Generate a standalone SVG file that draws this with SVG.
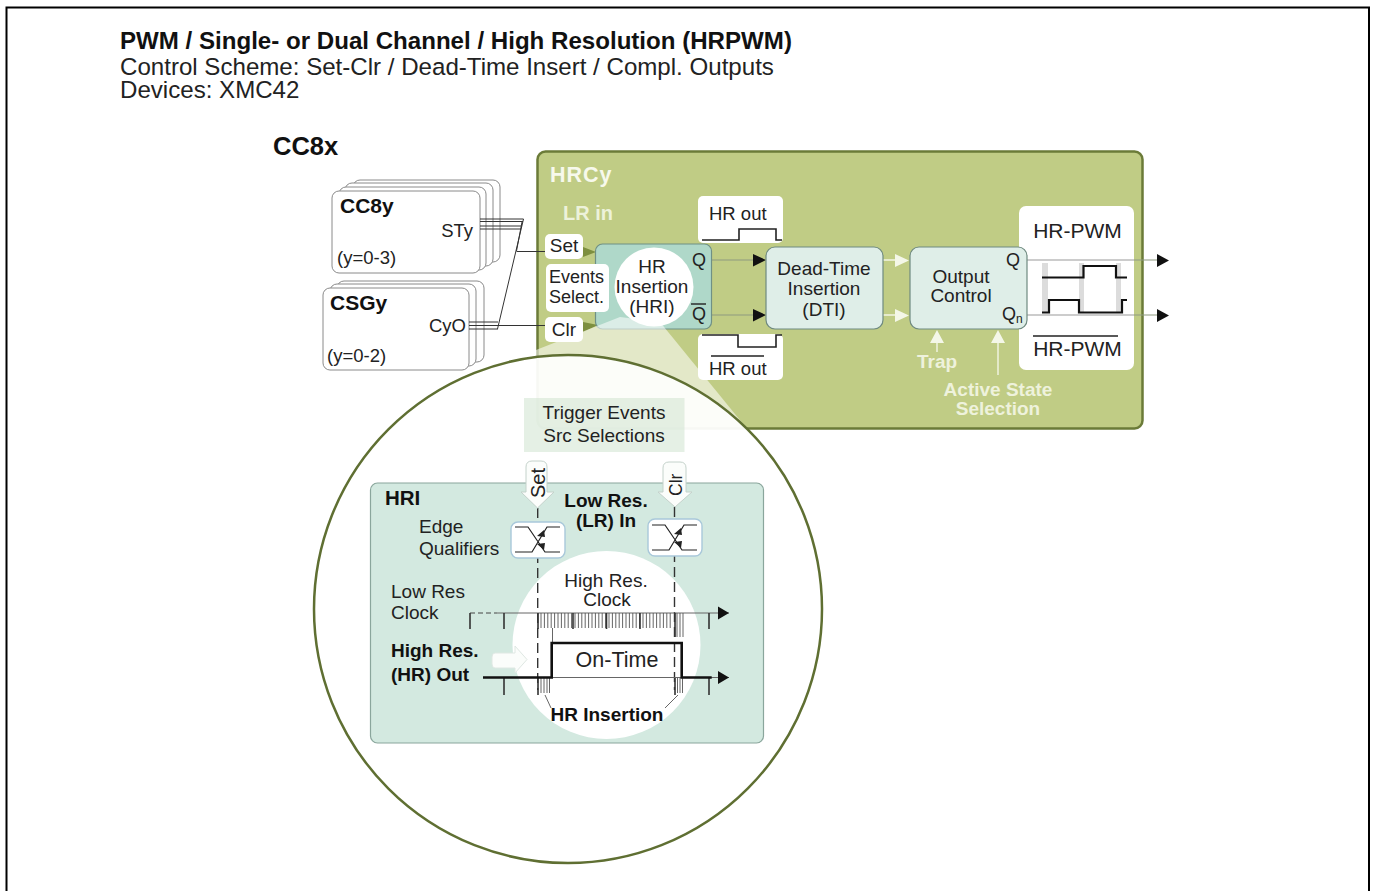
<svg xmlns="http://www.w3.org/2000/svg" width="1375" height="891" viewBox="0 0 1375 891">
<defs>
<style>
text{font-family:"Liberation Sans",Arial,sans-serif;fill:#222}
.b{font-weight:bold;fill:#111}
.m{text-anchor:middle}
.w{fill:#eef2dc;font-weight:bold}
.f19{font-size:19px}
.stack{fill:#fff;stroke:#8a8a8a;stroke-width:1}
.lab{fill:#fff}
.teal{fill:#dfeee8;stroke:#6f8a80;stroke-width:1.2}
.wire{fill:none;stroke:#333;stroke-width:1}
.gl{fill:none;stroke:#8e9a80;stroke-width:1.2}
.wave{fill:none;stroke:#222;stroke-width:1.6}
.wl{fill:none;stroke:#f2f5e4;stroke-width:1.4}
.tick{stroke:#333;stroke-width:1.6}
.fine{stroke:#555;stroke-width:.9}
.dash{stroke:#333;stroke-width:1.4;stroke-dasharray:10 5;fill:none}
.eq{fill:#fff;stroke:#a9c8da;stroke-width:1.4}
.hand{fill:#fbfdfb;stroke:#c4d2cb;stroke-width:1}
</style>
</defs>
<rect width="1375" height="891" fill="#fff"/>
<path d="M6.500 891V7.500H1369V891" fill="none" stroke="#000" stroke-width="2"/>
<text x="120" y="49" class="b" font-size="24.100">PWM / Single- or Dual Channel / High Resolution (HRPWM)</text>
<text x="120" y="74.500" font-size="24.100">Control Scheme: Set-Clr / Dead-Time Insert / Compl. Outputs</text>
<text x="120" y="98" font-size="24.100">Devices: XMC42</text>
<text x="273" y="155" class="b" font-size="25.500">CC8x</text>

<g id="hrcy">
<rect x="537.500" y="151.500" width="605" height="277" rx="8" fill="#c0cc85" stroke="#6b7b38" stroke-width="2.500"/>
<text x="550" y="182" font-size="21.500" font-weight="bold" letter-spacing="1" style="fill:#f7f9ec">HRCy</text>
<text x="563" y="220" font-size="20" font-weight="bold" style="fill:#edf2da">LR in</text>
</g>

<g id="cc8y">
<rect class="stack" x="353" y="180" width="147" height="82" rx="7"/>
<rect class="stack" x="345" y="183" width="148" height="83" rx="7"/>
<rect class="stack" x="339" y="187" width="147" height="83" rx="7"/>
<rect class="stack" x="332" y="191" width="148" height="82" rx="7"/>
<text x="340" y="213" class="b" font-size="21">CC8y</text>
<text x="473" y="237" text-anchor="end" font-size="18.500">STy</text>
<text x="337" y="264" font-size="18.500">(y=0-3)</text>
</g>
<g id="csgy">
<rect class="stack" x="337" y="281" width="147" height="81" rx="7"/>
<rect class="stack" x="330" y="284" width="146" height="82" rx="7"/>
<rect class="stack" x="323" y="288" width="146" height="82" rx="7"/>
<text x="330" y="310" class="b" font-size="21">CSGy</text>
<text x="466" y="332" text-anchor="end" font-size="18.500">CyO</text>
<text x="327" y="362" font-size="18.500">(y=0-2)</text>
</g>

<g id="connectors">
<path class="wire" d="M480 219H523.500M480 221.500H523M480 226H522M480 229H521M523.500 219L497.500 329M522 222L516.500 251M516.500 251.500H546M469 322H498M469 325.500H546M469 329H498"/>
<path class="gl" d="M711 260H756M711 315H756M1027 260H1158M1027 315H1158"/>
<path d="M753 254L766 260L753 266.500ZM753 309L766 315L753 321.500ZM1157 254L1169 260.500L1157 267ZM1157 309L1169 315.500L1157 322Z" fill="#111"/>
<path class="wl" d="M883 260H898M883 315H898M937 343V352M998 343V375"/>
<path d="M895 254L909 260.500L895 267ZM895 309L909 315.500L895 322ZM937 330L930 343H944ZM998 330L991 343H1005Z" fill="#f4f7e8"/>
<path d="M583 247L596 252L583 257ZM583 322L598 325L583 332Z" fill="#7d8f3f"/>
</g>

<g id="hr-out-top">
<rect x="698" y="196" width="85" height="47" rx="5" fill="#fff"/>
<text x="709" y="220" font-size="18.500">HR out</text>
<path class="wave" d="M702 240H739V229H776V240H782"/>
</g>
<g id="hr-out-bottom">
<rect x="698" y="334" width="85" height="46" rx="5" fill="#fff"/>
<path class="wave" d="M702 335H738V347H776V335H782"/>
<path d="M711 356H764" stroke="#222" stroke-width="1.400"/>
<text x="709" y="375" font-size="18.500">HR out</text>
</g>
<g id="hri-small">
<rect x="595.500" y="244" width="116" height="85" rx="7" fill="#afd8c9" stroke="#6f9085" stroke-width="1.200"/>
<text x="692" y="266" font-size="18">Q</text>
<text x="692" y="320" font-size="18">Q</text>
<path d="M691 304H706" stroke="#222" stroke-width="1.400"/>
</g>

<g id="callout">
<polygon points="620,317 660,322 748,430 620,500 470,376" fill="#fff" fill-opacity=".55"/>
<circle cx="568" cy="609" r="254" fill="#fff" fill-opacity=".88" stroke="#5f6f32" stroke-width="2.500"/>
<circle cx="654" cy="287" r="39.500" fill="#fff"/>
<text x="652" y="273" class="m f19">HR</text>
<text x="652" y="293" class="m f19">Insertion</text>
<text x="652" y="313" class="m f19">(HRI)</text>
<rect x="524" y="398" width="160.500" height="54" fill="#cfe4cf" fill-opacity=".55"/>
<text x="604" y="419" class="m f19">Trigger Events</text>
<text x="604" y="442" class="m f19">Src Selections</text>
</g>
<g id="labels-in">
<rect class="lab" x="545" y="234" width="38" height="25" rx="5"/>
<text x="564" y="252" class="m f19">Set</text>
<rect class="lab" x="546" y="264" width="63" height="48" rx="5"/>
<text x="549" y="283" font-size="18">Events</text>
<text x="549" y="303" font-size="18">Select.</text>
<rect class="lab" x="545" y="317" width="38" height="25" rx="5"/>
<text x="564" y="336" class="m f19">Clr</text>
</g>

<g id="dti">
<rect class="teal" x="766" y="247" width="117" height="82" rx="9"/>
<text x="824" y="275" class="m f19">Dead-Time</text>
<text x="824" y="295" class="m f19">Insertion</text>
<text x="824" y="316" class="m f19">(DTI)</text>
</g>
<g id="hr-pwm">
<rect x="1019" y="206" width="115" height="164" rx="7" fill="#fff"/>
<path d="M1027 260H1134M1027 315H1134" fill="none" stroke="#9a9a9a" stroke-width="1.200"/>
<path d="M1042 263h6v50h-6zM1079 263h5v50h-5zM1116 263h5v50h-5z" fill="#dcdcdc"/>
<path d="M1042 277.500H1083.500V266H1116V277.500H1127" fill="none" stroke="#111" stroke-width="2.200"/>
<path d="M1042 312.500H1049V300H1079V312.500H1122V300H1127" fill="none" stroke="#111" stroke-width="2.200"/>
<text x="1077.500" y="238" class="m" font-size="21">HR-PWM</text>
<path d="M1033 336H1118" stroke="#222" stroke-width="1.400"/>
<text x="1077.500" y="356" class="m" font-size="21">HR-PWM</text>
</g>
<g id="output-control">
<rect class="teal" x="910" y="247" width="117" height="82" rx="9"/>
<text x="961" y="283" class="m f19">Output</text>
<text x="961" y="302" class="m f19">Control</text>
<text x="1006" y="266" font-size="18">Q</text>
<text x="1002" y="320" font-size="18">Q<tspan font-size="12" dy="3">n</tspan></text>
</g>
<text x="937" y="368" class="m w" font-size="19">Trap</text>
<text x="998" y="396" class="m w" font-size="19">Active State</text>
<text x="998" y="415" class="m w" font-size="19">Selection</text>

<g id="hri">
<rect x="370.500" y="483" width="393" height="260" rx="7" fill="#d3e9e0" stroke="#8aa69c" stroke-width="1.200"/>
<circle cx="606.500" cy="645" r="94" fill="#fff"/>
<text x="385" y="505" class="b" font-size="20.500">HRI</text>
<text x="419" y="533" class="f19">Edge</text>
<text x="419" y="555" class="f19">Qualifiers</text>
<text x="606" y="507" class="m b f19">Low Res.</text>
<text x="606" y="527" class="m b f19">(LR) In</text>
<text x="606" y="587" class="m f19">High Res.</text>
<text x="607" y="606" class="m f19">Clock</text>
<text x="391" y="598" class="f19">Low Res</text>
<text x="391" y="619" class="f19">Clock</text>
<text x="391" y="657" class="b f19">High Res.</text>
<text x="391" y="681" class="b f19">(HR) Out</text>
<text x="617" y="667" class="m" font-size="21.500">On-Time</text>
<text x="607" y="721" class="m b f19">HR Insertion</text>
<path class="dash" d="M537.700 508V690M674.500 507V690"/>
<path class="hand" d="M526 467q0-6 6-6h9q6 0 6 6v25h7l-16.500 16L521 492h5Z"/>
<text x="545" y="498" font-size="20" transform="rotate(-90 545 498)">Set</text>
<path class="hand" d="M663 468q0-6 6-6h11q6 0 6 6v24h6l-17 15-17-15h5Z"/>
<text x="682" y="496" font-size="17.500" transform="rotate(-90 682 496)">Clr</text>
<rect class="eq" x="511" y="522" width="54" height="36" rx="7"/>
<path d="M515 527H528L545 552H560M515 552H532L547 527H560" fill="none" stroke="#222" stroke-width="1.200"/>
<path d="M537 536L544 530L545 537ZM537 544L544 550L545 543Z" fill="#222"/>
<rect class="eq" x="648" y="519" width="54" height="37" rx="7"/>
<path d="M652 525H665L682 550H697M652 550H669L684 525H697" fill="none" stroke="#222" stroke-width="1.200"/>
<path d="M674 534L681 528L682 535ZM674 542L681 548L682 541Z" fill="#222"/>
<path d="M497 613H729M483 677.500H729" stroke="#666" stroke-width="1"/>
<path d="M470 613H497" stroke="#444" stroke-width="1" stroke-dasharray="5 3"/>
<path class="fine" d="M541 613v15M544.400 613v15M547.800 613v15M551.200 613v15M554.600 613v15M558 613v15M561.400 613v15M564.800 613v15M568.200 613v15M571.600 613v15M575 613v15M578.400 613v15M581.800 613v15M585.200 613v15M588.600 613v15M592 613v15M595.400 613v15M598.800 613v15M602.200 613v15M605.600 613v15M609 613v15M612.400 613v15M615.800 613v15M619.200 613v15M622.600 613v15M626 613v15M629.400 613v15M632.800 613v15M636.200 613v15M639.600 613v15M643 613v15M646.400 613v15M649.800 613v15M653.200 613v15M656.600 613v15M660 613v15M663.400 613v15M666.800 613v15M670.200 613v15M677 613v24M680 613v24M683 613v24M552.500 628v14"/>
<path class="fine" d="M541 678v15M544 678v15M547 678v15M549.500 678v15M677.500 678v15M680 678v15M682.500 678v15"/>
<path class="fine" d="M545 695L551 708M678 695L665 708" stroke="#777"/>
<path class="tick" d="M470 613v16M504 613v16M538 613v16M573 613v16M606.500 613v16M640 613v16M675 613v24M709 613v16M504 678v17M538 678v17M675 678v17M709 678v17"/>
<path d="M718 606.500L729 613L718 619.500ZM718 671L729 677.500L718 684Z" fill="#111"/>
<path d="M483 677.500H551.700V643H681.700V677.500H711.700" fill="none" stroke="#111" stroke-width="2.600"/>
<path d="M495 653H515V646L527 659.500L515 673V668H495Q492 668 492 664V657Q492 653 495 653Z" fill="#fbfdfb" stroke="#dfe8e3"/>
</g>
</svg>
